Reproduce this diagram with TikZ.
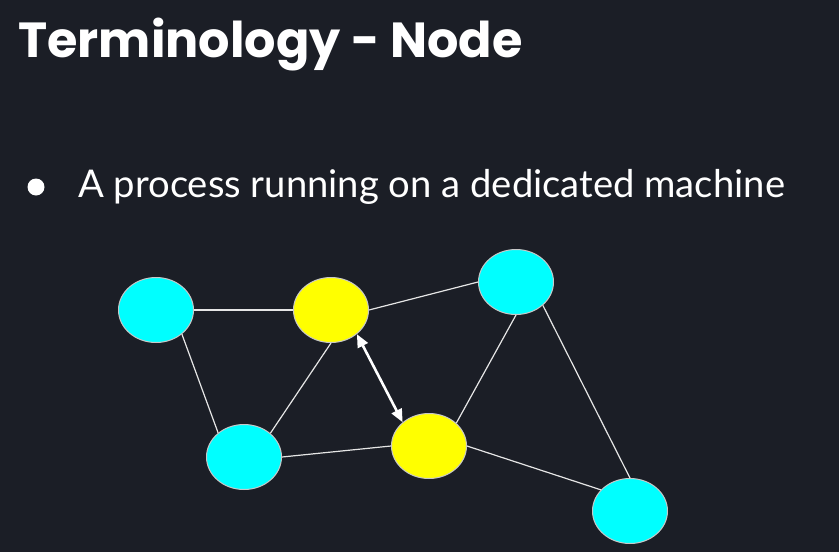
\documentclass[tikz,border=0pt]{standalone}
\usepackage{fontspec}
\setmainfont{Lato}
\newfontfamily\titlefont{Poppins}
\usetikzlibrary{shapes.geometric,arrows.meta}
\definecolor{bg}{HTML}{1B1E26}
\definecolor{cyannode}{HTML}{00FFFF}
\definecolor{yellownode}{HTML}{FFFF00}
\definecolor{edgecol}{HTML}{E6E6E6}
\definecolor{rimcol}{HTML}{C8C8C8}
\tikzset{
  gnode/.style={ellipse, draw=rimcol, line width=1pt, minimum width=75pt, minimum height=65pt, inner sep=0pt},
  cnode/.style={gnode, fill=cyannode},
  ynode/.style={gnode, fill=yellownode},
  link/.style={draw=edgecol, line width=1.2pt},
  twoway/.style={draw=white, line width=2.6pt, {Triangle[length=13pt,width=11pt]}-{Triangle[length=13pt,width=11pt]}},
}
\begin{document}
\begin{tikzpicture}[x=1pt,y=-1pt]
\fill[bg] (0,0) rectangle (839,552);
\useasboundingbox (0,0) rectangle (839,552);
\node[anchor=base west, text=white, font=\titlefont\bfseries\fontsize{49.3}{56}\selectfont, inner sep=0pt] (title) at (18,57) {Terminology - Node};
\node[circle, fill=white, minimum size=17pt, inner sep=0pt] (dot) at (36,187) {};
\node[anchor=base west, text=white, font=\fontsize{38.2}{44}\selectfont, inner sep=0pt] (item) at (78,197) {A process running on a dedicated machine};
\node[cnode] (A) at (156,310) {};
\node[ynode] (B) at (331,310) {};
\node[cnode] (D) at (516,282) {};
\node[cnode] (E) at (244,457) {};
\node[ynode] (C) at (429,446) {};
\node[cnode] (F) at (630,511) {};
\draw[link] (A.east) -- (B.west);
\draw[link] (A.-43) -- (E.137);
\draw[link] (B.south) -- (E.42);
\draw[link] (B.east) -- (D.west);
\draw[link] (E.east) -- (C.west);
\draw[link] (C.40) -- (D.south);
\draw[link] (D.-41) -- (F.north);
\draw[link] (C.east) -- (F.144);
\draw[twoway] (B.-43) -- (C.138);
\end{tikzpicture}
\end{document}
